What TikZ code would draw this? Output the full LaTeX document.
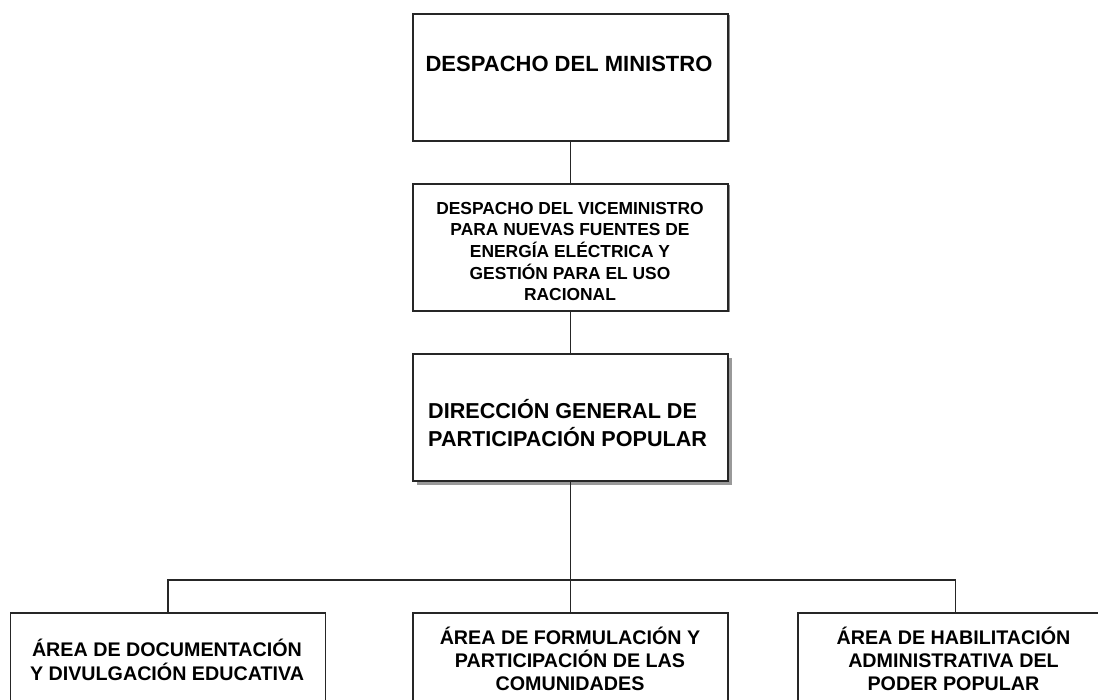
\documentclass[tikz,border=0pt]{standalone}
\usepackage{fontspec}
\setmainfont{Liberation Sans}
\usetikzlibrary{shadows}
\tikzset{
  orgbox/.style={draw=black!85, line width=1.6pt, fill=white, inner sep=0pt,
    minimum width=315pt},
  thinshadow/.style={drop shadow={shadow xshift=1.5pt, shadow yshift=-1.5pt, fill=black!45, opacity=1}},
  thickshadow/.style={drop shadow={shadow xshift=4pt, shadow yshift=-4pt, fill=black!40, opacity=1}},
  orgtxt/.style={align=center, inner sep=0pt, text=black},
  link/.style={draw=black!85, line width=1.6pt}
}
\begin{document}
\begin{tikzpicture}[x=1pt,y=-1pt]
\useasboundingbox (0,0) rectangle (1098,700);
\fill[white] (0,0) rectangle (1098,700);
% boxes
\node[orgbox, thinshadow, minimum height=127pt] (min) at (570.5,77.5) {};
\node[orgbox, thinshadow, minimum height=127pt] (vice) at (570.5,247.5) {};
\node[orgbox, thickshadow, minimum height=127pt] (dg) at (570.5,417.5) {};
\node[orgbox, minimum height=120pt, anchor=north] (doc) at (168,612) {};
\node[orgbox, minimum height=120pt, anchor=north] (form) at (570.5,612) {};
\node[orgbox, minimum height=120pt, anchor=north] (hab) at (955.5,612) {};
% texts
\node[orgtxt, font=\fontsize{22}{26}\selectfont\bfseries] (tmin) at (569,64) {DESPACHO DEL MINISTRO};
\node[orgtxt, font=\fontsize{17.4}{21.7}\selectfont\bfseries] (tvice) at (570,251.5)
  {DESPACHO DEL VICEMINISTRO\\PARA NUEVAS FUENTES DE\\ENERGÍA ELÉCTRICA Y\\GESTIÓN PARA EL USO\\RACIONAL};
\node[orgtxt, align=left, anchor=west, font=\fontsize{21.6}{28.5}\selectfont\bfseries] (tdg) at (428,423)
  {DIRECCIÓN GENERAL DE\\PARTICIPACIÓN POPULAR};
\node[orgtxt, font=\fontsize{19.7}{24}\selectfont\bfseries] (tdoc) at (167,660)
  {ÁREA DE DOCUMENTACIÓN\\Y DIVULGACIÓN EDUCATIVA};
\node[orgtxt, font=\fontsize{19.7}{23}\selectfont\bfseries] (tform) at (570,659)
  {ÁREA DE FORMULACIÓN Y\\PARTICIPACIÓN DE LAS\\COMUNIDADES};
\node[orgtxt, font=\fontsize{19.7}{23}\selectfont\bfseries] (thab) at (953.5,659)
  {ÁREA DE HABILITACIÓN\\ADMINISTRATIVA DEL\\PODER POPULAR};
% connectors
\coordinate (bar) at (570.5,580);
\draw[link] (min.south) -- (vice.north);
\draw[link] (vice.south) -- (dg.north);
\draw[link] (dg.south) -- (bar);
\draw[link] (doc.north) |- (bar) -| (hab.north);
\draw[link] (bar) -- (form.north);
\end{tikzpicture}
\end{document}
